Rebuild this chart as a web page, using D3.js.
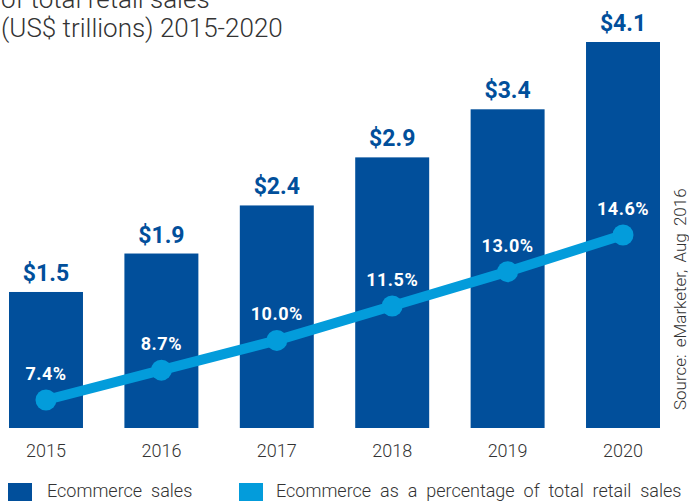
<!DOCTYPE html>
<html>
<head>
<meta charset="utf-8">
<script src="https://cdn.jsdelivr.net/npm/d3@7"></script>
<style>
  html, body { margin: 0; padding: 0; background: #fff; }
  svg { display: block; }
</style>
</head>
<body>
<svg id="chart" width="689" height="501"></svg>
<script>
// Retail ecommerce sales worldwide, 2015-2020
const years = ["2015", "2016", "2017", "2018", "2019", "2020"];
const salesTrillions = [1.5, 1.9, 2.4, 2.9, 3.4, 4.1];
const shareOfRetail = [7.4, 8.7, 10.0, 11.5, 13.0, 14.6];
const titleLines = ["of total retail sales", "(US$ trillions) 2015-2020"];
const sourceNote = "Source: eMarketer, Aug 2016";
const legendItems = ["Ecommerce sales", "Ecommerce as a percentage of total retail sales"];

const DARK = "#014f9b";
const LIGHT = "#039cdb";
const TEXT = "#333333";
const FONT = "Roboto, 'Liberation Sans', sans-serif";

const svg = d3.select("#chart");

// plot frame
const left = 9, right = 660, baseline = 428;

const x = d3.scaleBand()
  .domain(years)
  .range([left, right])
  .paddingInner(0.359)
  .paddingOuter(0);

const yBar = d3.scaleLinear()
  .domain([0, d3.max(salesTrillions)])
  .range([436.2, 42]);

const yPct = d3.scaleLinear()
  .domain([0, 20])
  .range([569.6, 111.2]);

const cx = d => x(d) + x.bandwidth() / 2;

// title (top line runs off the top edge)
svg.append("g").selectAll("text")
  .data(titleLines)
  .join("text")
  .attr("x", 1)
  .attr("y", (d, i) => 8 + i * 29)
  .attr("font-family", FONT)
  .attr("font-weight", 300)
  .attr("font-size", 26)
  .attr("fill", TEXT)
  .text(d => d);

// bars
svg.append("g").selectAll("rect")
  .data(salesTrillions)
  .join("rect")
  .attr("x", (d, i) => x(years[i]))
  .attr("y", d => yBar(d))
  .attr("width", x.bandwidth())
  .attr("height", d => baseline - yBar(d))
  .attr("fill", DARK);

// sales value labels
svg.append("g").selectAll("text")
  .data(salesTrillions)
  .join("text")
  .attr("x", (d, i) => cx(years[i]))
  .attr("y", d => yBar(d) - 11)
  .attr("text-anchor", "middle")
  .attr("font-family", FONT)
  .attr("font-weight", 700)
  .attr("font-size", 23)
  .attr("fill", DARK)
  .text(d => "$" + d.toFixed(1));

// share line
const line = d3.line()
  .x((d, i) => cx(years[i]))
  .y(d => yPct(d));

svg.append("path")
  .datum(shareOfRetail)
  .attr("d", line)
  .attr("fill", "none")
  .attr("stroke", LIGHT)
  .attr("stroke-width", 10);

svg.append("g").selectAll("circle")
  .data(shareOfRetail)
  .join("circle")
  .attr("cx", (d, i) => cx(years[i]))
  .attr("cy", d => yPct(d))
  .attr("r", 10.5)
  .attr("fill", LIGHT);

// share labels
svg.append("g").selectAll("text")
  .data(shareOfRetail)
  .join("text")
  .attr("x", (d, i) => cx(years[i]))
  .attr("y", d => yPct(d) - 20)
  .attr("text-anchor", "middle")
  .attr("font-family", FONT)
  .attr("font-weight", 700)
  .attr("font-size", 18)
  .attr("letter-spacing", 0.5)
  .attr("fill", "#ffffff")
  .text(d => d.toFixed(1) + "%");

// x axis labels
const xAxis = d3.axisBottom(x).tickSize(0).tickPadding(0);
const axisG = svg.append("g")
  .attr("transform", `translate(0,${baseline})`)
  .call(xAxis);
axisG.select(".domain").remove();
axisG.selectAll("text")
  .attr("dy", null)
  .attr("y", 29)
  .attr("font-family", FONT)
  .attr("font-weight", 300)
  .attr("font-size", 18)
  .attr("fill", TEXT);

// source note
svg.append("text")
  .attr("transform", "translate(686,410) rotate(-90)")
  .attr("font-family", FONT)
  .attr("font-weight", 300)
  .attr("font-size", 17)
  .attr("word-spacing", 3)
  .attr("fill", TEXT)
  .text(sourceNote);

// legend
const legendX = [8, 239];
const legend = svg.append("g").selectAll("g")
  .data(legendItems)
  .join("g")
  .attr("transform", (d, i) => `translate(${legendX[i]},483)`);

legend.append("rect")
  .attr("width", 24)
  .attr("height", 20)
  .attr("fill", (d, i) => i === 0 ? DARK : LIGHT);

legend.append("text")
  .attr("x", (d, i) => i === 0 ? 39 : 37)
  .attr("y", 14)
  .attr("font-family", FONT)
  .attr("font-weight", 300)
  .attr("font-size", 18)
  .attr("word-spacing", 4.5)
  .attr("fill", TEXT)
  .text(d => d);
</script>
</body>
</html>
